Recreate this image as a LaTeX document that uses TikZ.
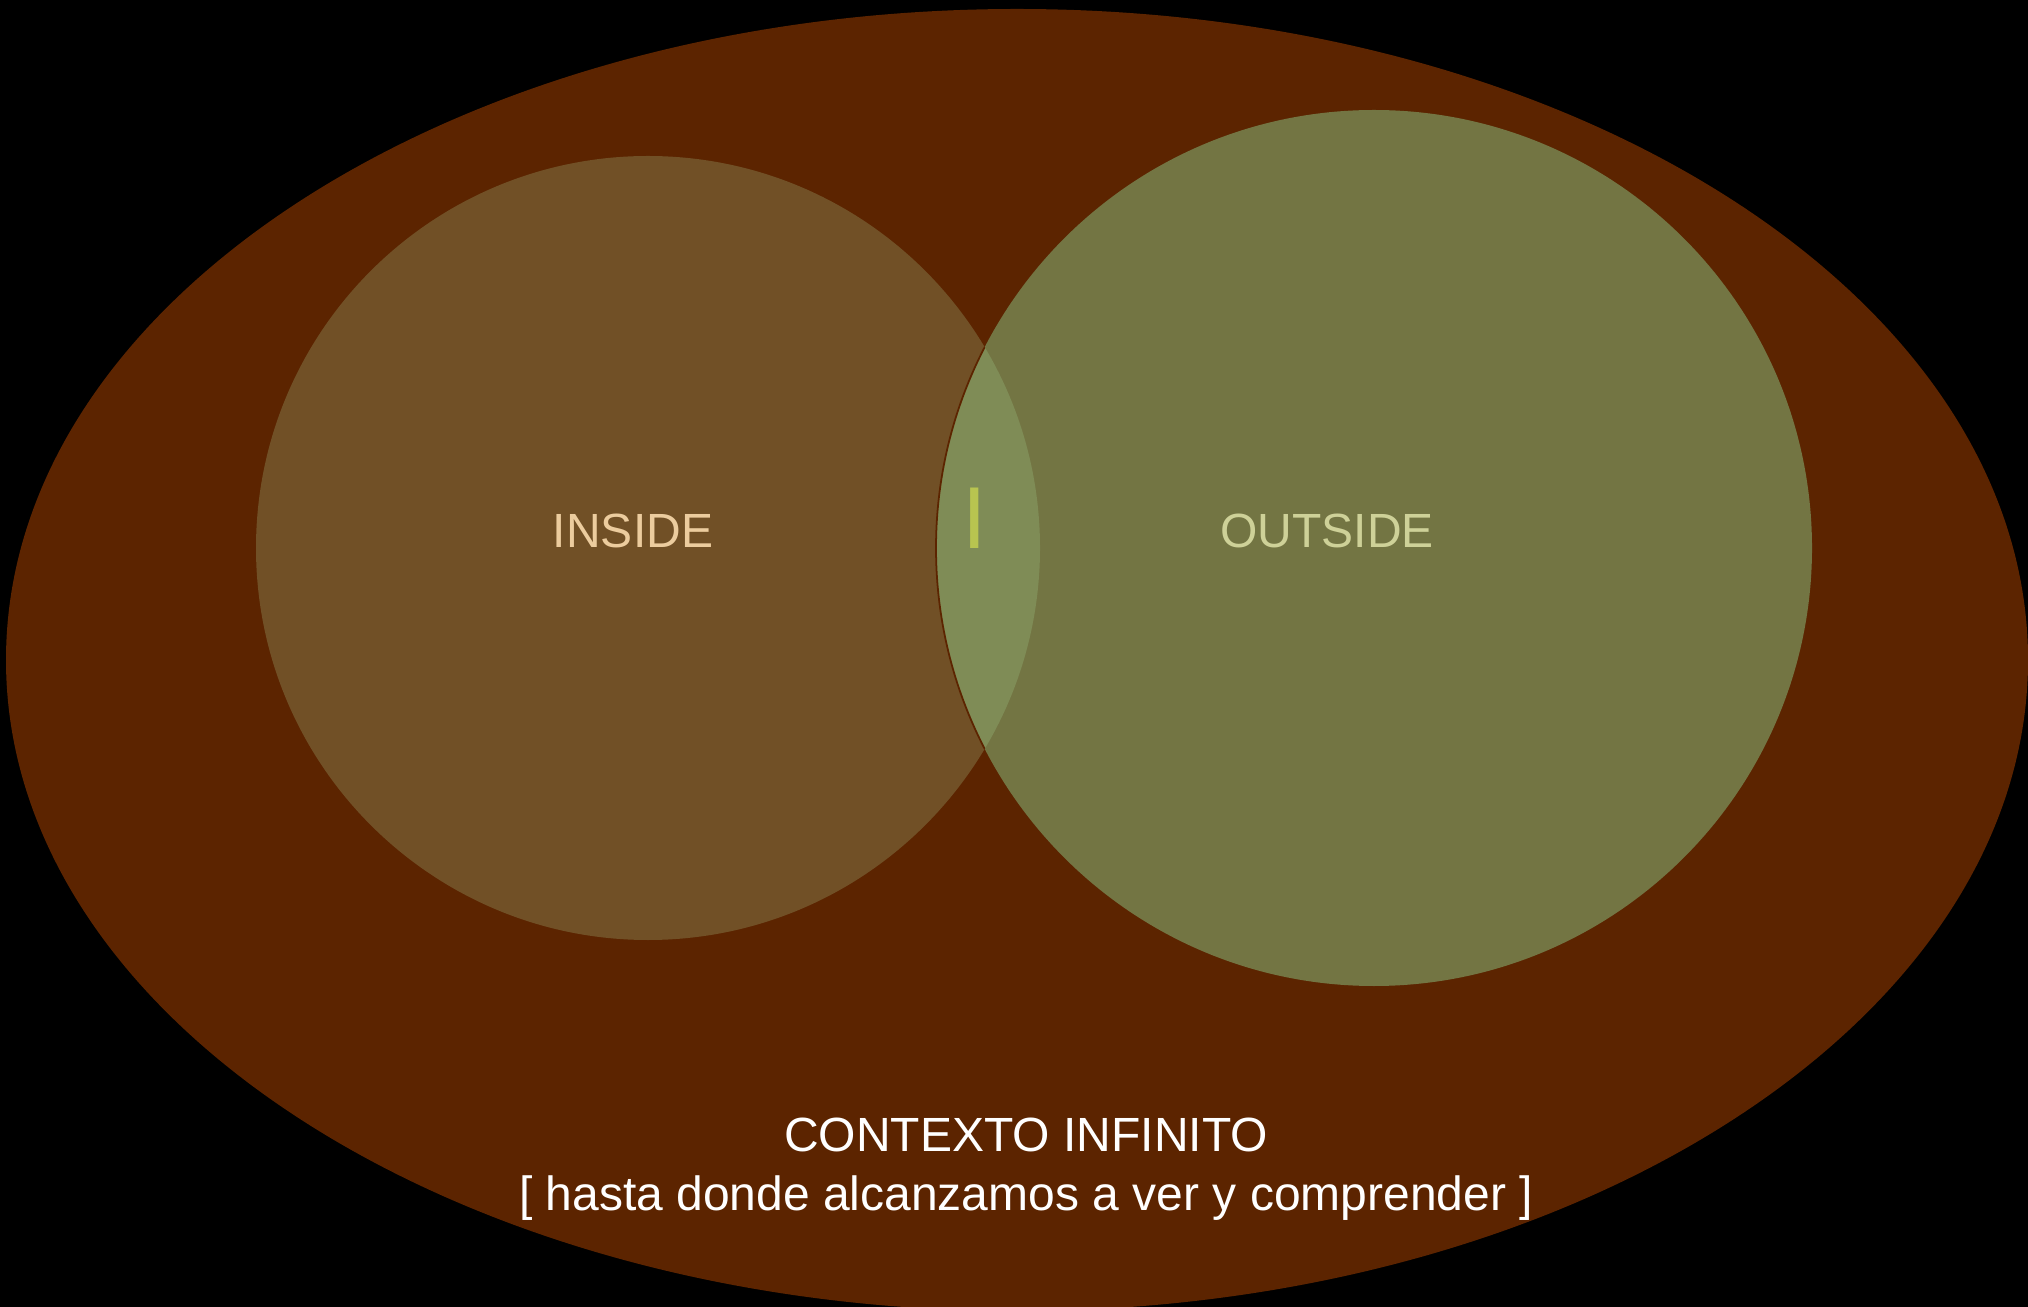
\documentclass[tikz,border=0pt]{standalone}
\usepackage{fontspec}
\setmainfont{Liberation Sans}
\usepackage{tikz}
\usetikzlibrary{positioning}

\definecolor{bgbrown}{HTML}{5C2400}
\definecolor{insidefill}{HTML}{715026}
\definecolor{outsidefill}{HTML}{737543}
\definecolor{lensfill}{HTML}{7F8C56}
\definecolor{insidetext}{HTML}{ECCC9E}
\definecolor{outsidetext}{HTML}{CED198}
\definecolor{markcol}{HTML}{B8C450}

\begin{document}
\begin{tikzpicture}[x=0.01cm,y=-0.01cm,
                    label text/.style={font=\fontsize{13.65}{16}\selectfont,anchor=base,inner sep=0pt}]

  \fill[black] (0,0) rectangle (2028,1307);
  \useasboundingbox (0,0) rectangle (2028,1307);

  \coordinate (ctx) at (1017,660);
  \coordinate (in) at (648,548);
  \coordinate (out) at (1374,548);

  % outer context
  \fill[bgbrown] (ctx) ellipse (1011 and 651);

  % the two sets
  \fill[insidefill] (in) circle (392);
  \fill[outsidefill] (out) circle (438);
  \begin{scope}
    \clip (in) circle (392);
    \fill[lensfill] (out) circle (438);
    \draw[bgbrown,line width=0.5pt] (out) circle (438);
  \end{scope}

  \node[label text,text=insidetext] (inlabel) at (633,548) {INSIDE};
  \node[label text,text=outsidetext] (outlabel) at (1327,548) {OUTSIDE};
  \node[label text,text=markcol,font=\fontsize{25}{30}\selectfont] (mark) at (975,549) {I};

  \node[label text,text=white] (ctxlabel) at (1026,1151) {CONTEXTO INFINITO};
  \node[label text,text=white] (ctxsub) at (1026,1210) {[ hasta donde alcanzamos a ver y comprender ]};
\end{tikzpicture}
\end{document}
